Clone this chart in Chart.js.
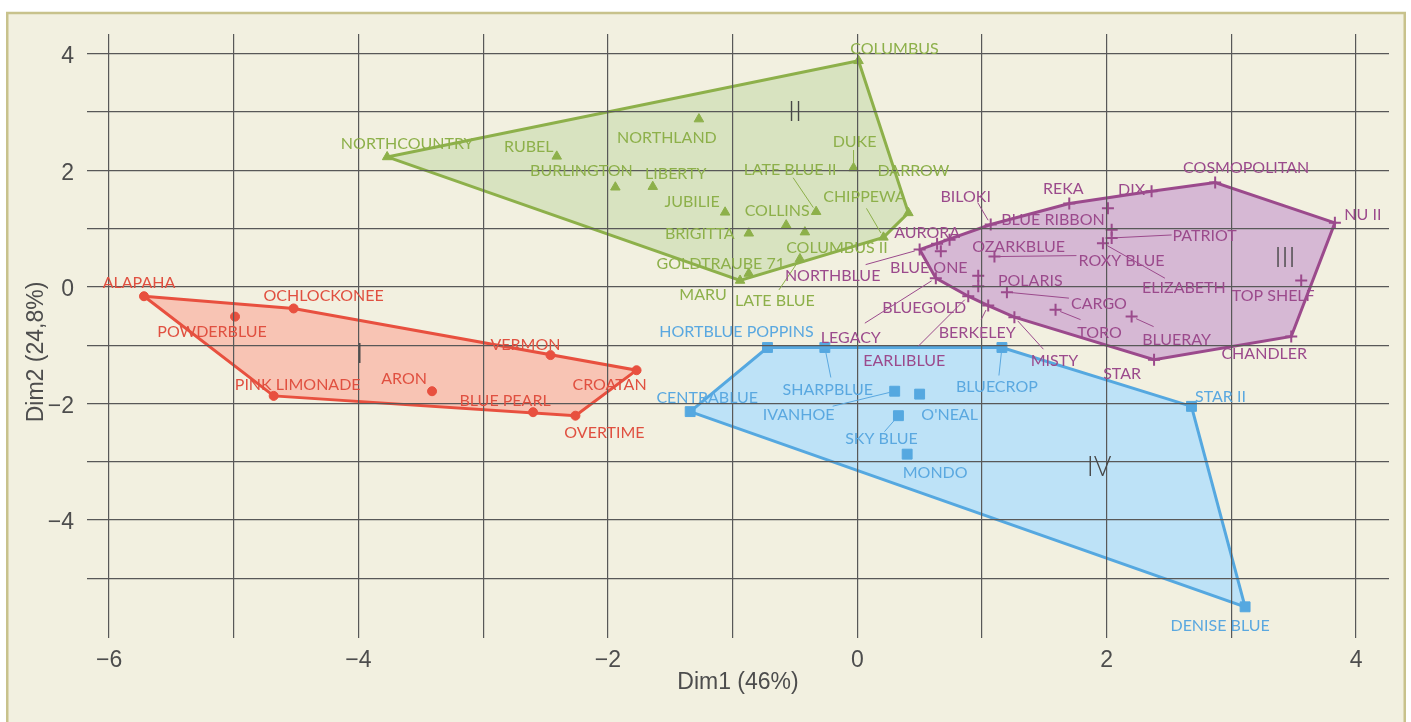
<!DOCTYPE html>
<html>
  <head>
    <meta charset="utf-8">
    <title>Dim1 / Dim2</title>
    <style>
      html, body { margin: 0; padding: 0; background: #fff; }
    </style>
  </head>
  <body>
    <canvas id="MyCanvas" width="1411" height="722"></canvas>
    <script src="https://cdn.jsdelivr.net/npm/chart.js@4.4.1/dist/chart.umd.min.js"></script>
    <script>

      // group I
      const namesI = ['ALAPAHA', 'POWDERBLUE', 'OCHLOCKONEE', 'PINK LIMONADE', 'ARON', 'BLUE PEARL', 'VERMON', 'CROATAN', 'OVERTIME'];
      const dim1I = [-5.72, -4.99, -4.52, -4.68, -3.41, -2.60, -2.46, -1.77, -2.26];
      const dim2I = [-0.16, -0.51, -0.37, -1.87, -1.79, -2.15, -1.17, -1.43, -2.21];

      // group II
      const namesII = ['NORTHCOUNTRY', 'RUBEL', 'NORTHLAND', 'BURLINGTON', 'LIBERTY', 'COLUMBUS', 'DUKE', 'DARROW', 'JUBILIE',
        'LATE BLUE II', 'COLLINS', 'BRIGITTA', 'COLUMBUS II', 'CHIPPEWA', 'LATE BLUE', 'GOLDTRAUBE 71', 'MARU'];
      const dim1II = [-3.77, -2.41, -1.27, -1.94, -1.64, 0.01, -0.03, 0.41, -1.06, -0.33, -0.57, -0.87, -0.42, 0.21, -0.46, -0.87, -0.94];
      const dim2II = [2.23, 2.24, 2.88, 1.71, 1.72, 3.88, 2.04, 1.27, 1.28, 1.29, 1.06, 0.92, 0.94, 0.85, 0.48, 0.23, 0.11];

      // group III
      const namesIII = ['NORTHBLUE', 'AURORA', 'OZARKBLUE', 'BLUE ONE', 'BILOKI', 'REKA', 'BLUE RIBBON', 'DIX', 'COSMOPOLITAN', 'NU II',
        '', 'PATRIOT', 'ELIZABETH', 'ROXY BLUE', 'POLARIS', 'BLUEGOLD', 'CARGO', 'LEGACY', 'EARLIBLUE', 'BERKELEY', 'MISTY',
        'TORO', 'BLUERAY', 'STAR', 'CHANDLER', 'TOP SHELF'];
      const dim1III = [0.50, 0.64, 0.74, 0.67, 1.07, 1.70, 2.01, 2.36, 2.87, 3.83, 2.04, 2.04, 1.97, 1.10, 0.97, 0.97, 1.20, 0.63,
        0.89, 1.05, 1.26, 1.59, 2.20, 2.38, 3.48, 3.56];
      const dim2III = [0.64, 0.74, 0.81, 0.61, 1.07, 1.43, 1.35, 1.64, 1.79, 1.10, 0.98, 0.84, 0.75, 0.52, 0.19, 0.01, -0.09, 0.15,
        -0.16, -0.32, -0.52, -0.39, -0.51, -1.25, -0.85, 0.11];

      // group IV
      const namesIV = ['HORTBLUE POPPINS', 'SHARPBLUE', 'CENTRABLUE', 'IVANHOE', "O'NEAL", 'SKY BLUE', 'MONDO', 'BLUECROP', 'STAR II', 'DENISE BLUE'];
      const dim1IV = [-0.72, -0.26, -1.34, 0.30, 0.50, 0.33, 0.40, 1.16, 2.68, 3.11];
      const dim2IV = [-1.04, -1.04, -2.14, -1.79, -1.84, -2.21, -2.87, -1.04, -2.05, -5.49];

      // roman numeral of each group
      const groupNames = ['I', 'II', 'III', 'IV'];
      const groupX = [-3.99, -0.50, 3.43, 1.94];
      const groupY = [-1.15, 2.99, 0.49, -3.09];

      const xTicks = [-6, -5, -4, -3, -2, -1, 0, 1, 2, 3, 4];
      const yTicks = [-5, -4, -3, -2, -1, 0, 1, 2, 3, 4];

      // label placement, pixels from the point
      const labelOffset = {
        'ALAPAHA': [-5, -13], 'POWDERBLUE': [-23, 15], 'OCHLOCKONEE': [30, -13], 'PINK LIMONADE': [24, -11],
        'ARON': [-28, -12], 'BLUE PEARL': [-28, -11], 'VERMON': [-25, -10], 'CROATAN': [-27, 15], 'OVERTIME': [29, 17],
        'NORTHCOUNTRY': [20, -13], 'RUBEL': [-28, -10], 'NORTHLAND': [-32, 19], 'BURLINGTON': [-34, -16],
        'LIBERTY': [23, -13], 'COLUMBUS': [36, -12], 'DUKE': [1, -26], 'DARROW': [5, -42], 'JUBILIE': [-33, -10],
        'LATE BLUE II': [-26, -42], 'COLLINS': [-9, -14], 'BRIGITTA': [-49, 1], 'COLUMBUS II': [32, 16],
        'CHIPPEWA': [-19, -41], 'LATE BLUE': [-25, 42], 'GOLDTRAUBE 71': [-28, -10], 'MARU': [-37, 14],
        'NORTHBLUE': [-87, 26], 'AURORA': [-10, -11], 'OZARKBLUE': [69, 7], 'BLUE ONE': [-12, 16],
        'BILOKI': [-25, -28], 'REKA': [-6, -15], 'BLUE RIBBON': [-55, 12], 'DIX': [-20, -1], 'COSMOPOLITAN': [31, -15],
        'NU II': [28, -8], 'PATRIOT': [93, -2], 'ELIZABETH': [81, 45], 'ROXY BLUE': [127, 4], 'POLARIS': [52, 5],
        'BLUEGOLD': [-54, 22], 'CARGO': [92, 12], 'LEGACY': [-85, 60], 'EARLIBLUE': [-64, 65], 'BERKELEY': [-11, 27],
        'MISTY': [40, 44], 'TORO': [44, 23], 'BLUERAY': [45, 23], 'STAR': [-32, 14], 'CHANDLER': [-27, 17], 'TOP SHELF': [-28, 15],
        'HORTBLUE POPPINS': [-31, -16], 'SHARPBLUE': [3, 42], 'CENTRABLUE': [17, -14], 'IVANHOE': [-96, 24],
        "O'NEAL": [30, 21], 'SKY BLUE': [-17, 23], 'MONDO': [28, 19], 'BLUECROP': [-5, 39], 'STAR II': [29, -10], 'DENISE BLUE': [-25, 19]
      };
      // where the thin leader line starts, pixels from the point
      const leaderFrom = {
        'DUKE': [0, -18], 'LATE BLUE II': [-23, -34], 'CHIPPEWA': [-17, -29], 'LATE BLUE': [-21, 31],
        'NORTHBLUE': [-54, 15], 'BILOKI': [-13, -22], 'PATRIOT': [60, -3], 'ELIZABETH': [62, 35], 'ROXY BLUE': [82, -1],
        'CARGO': [62, 6], 'TORO': [25, 10], 'BLUERAY': [22, 10], 'LEGACY': [-71, 45], 'EARLIBLUE': [-50, 50],
        'BERKELEY': [-7, 14], 'MISTY': [29, 32],
        'SHARPBLUE': [6, 30], 'IVANHOE': [-62, 15], 'SKY BLUE': [-14, 16], 'BLUECROP': [-3, 28]
      };

      const groups = [
        {names: namesI, x: dim1I, y: dim2I, line: '#e8503f', fill: '#f8c4b4', text: '#e05040', style: 'circle', r: 4.5, bw: 1},
        {names: namesII, x: dim1II, y: dim2II, line: '#8db04a', fill: '#d8e3c0', text: '#8db04a', style: 'triangle', r: 5.5, bw: 1},
        {names: namesIII, x: dim1III, y: dim2III, line: '#9b4a8c', fill: '#d6b8d4', text: '#9b4a8c', style: 'cross', r: 6, bw: 2},
        {names: namesIV, x: dim1IV, y: dim2IV, line: '#55a8e0', fill: '#bde2f7', text: '#5aa8e0', style: 'rect', r: 7, bw: 1}
      ];

      function hullOf(pts) {
        const p = pts.slice().sort((a, b) => a.x - b.x || a.y - b.y);
        const cross = (o, a, b) => (a.x - o.x) * (b.y - o.y) - (a.y - o.y) * (b.x - o.x);
        const lower = [], upper = [];
        for (const q of p) {
          while (lower.length >= 2 && cross(lower[lower.length - 2], lower[lower.length - 1], q) <= 0) lower.pop();
          lower.push(q);
        }
        for (const q of p.slice().reverse()) {
          while (upper.length >= 2 && cross(upper[upper.length - 2], upper[upper.length - 1], q) <= 0) upper.pop();
          upper.push(q);
        }
        const h = lower.slice(0, -1).concat(upper.slice(0, -1));
        h.push(h[0]);
        return h;
      }

      const pointSets = [];
      const hullSets = [];
      groups.forEach(g => {
        const pts = g.names.map((_, i) => ({x: g.x[i], y: g.y[i]}));
        pointSets.push({
          data: pts, showLine: false, order: 1,
          pointStyle: g.style, pointRadius: g.r, pointBorderWidth: g.bw,
          backgroundColor: g.line, borderColor: g.line
        });
        hullSets.push({
          data: hullOf(pts), showLine: true, fill: 'shape', order: 2, tension: 0,
          pointRadius: 0, borderWidth: 3, borderColor: g.line, backgroundColor: g.fill
        });
      });

      const frame = {
        id: 'frame',
        beforeDraw(chart) {
          const c = chart.ctx;
          c.save();
          c.fillStyle = '#ffffff';
          c.fillRect(0, 0, chart.width, chart.height);
          c.fillStyle = '#f2f0e0';
          c.fillRect(7, 13, 1397, 712);
          c.strokeStyle = '#c8c28c';
          c.lineWidth = 2.5;
          c.strokeRect(7.25, 13, 1397.5, 720);
          c.restore();
        }
      };

      const labels = {
        id: 'labels',
        afterDraw(chart) {
          const c = chart.ctx, xs = chart.scales.x, ys = chart.scales.y;
          c.save();
          c.textAlign = 'center';
          c.textBaseline = 'middle';
          c.font = '16px Lato';
          c.lineWidth = 1;
          groups.forEach(g => {
            g.names.forEach((n, i) => {
              if (!n) return;
              const px = xs.getPixelForValue(g.x[i]);
              const py = ys.getPixelForValue(g.y[i]);
              c.fillStyle = g.text;
              c.strokeStyle = g.text;
              const lf = leaderFrom[n];
              if (lf) {
                const len = Math.hypot(lf[0], lf[1]);
                const k = 5 / len;
                c.beginPath();
                c.moveTo(px + lf[0], py + lf[1]);
                c.lineTo(px + lf[0] * k, py + lf[1] * k);
                c.stroke();
              }
              const off = labelOffset[n] || [0, -14];
              c.fillText(n, px + off[0], py + off[1]);
            });
          });
          c.fillStyle = '#474747';
          c.font = '300 27px Lato';
          groupNames.forEach((n, i) => {
            c.fillText(n, xs.getPixelForValue(groupX[i]), ys.getPixelForValue(groupY[i]));
          });
          c.restore();
        }
      };

      const fmt = v => (v < 0 ? '\u2212' + Math.abs(v) : String(v));
      const axisFont = {family: '"Liberation Sans", Arial, sans-serif', size: 23};

      const ctx = document.getElementById('MyCanvas').getContext('2d');
      const myChart = new Chart(ctx, {
        type: 'scatter',
        data: {datasets: pointSets.concat(hullSets)},
        options: {
          responsive: false,
          animation: false,
          devicePixelRatio: 1,
          layout: {padding: {left: 23, right: 22, top: 34, bottom: 26}},
          plugins: {legend: {display: false}, tooltip: {enabled: false}},
          scales: {
            x: {
              type: 'linear', min: -6.177, max: 4.264,
              afterBuildTicks: s => { s.ticks = xTicks.map(v => ({value: v})); },
              afterFit: s => { s.height = 58; },
              border: {display: false},
              grid: {color: '#585858', lineWidth: 1.2, drawTicks: false, z: 1},
              ticks: {padding: 9, color: '#4d4d4d', font: axisFont, autoSkip: false, maxRotation: 0,
                callback: v => (v % 2 === 0 ? fmt(v) : '')},
              title: {display: true, text: 'Dim1 (46%)', color: '#4d4d4d', font: axisFont, padding: 0}
            },
            y: {
              type: 'linear', min: -6.025, max: 4.34,
              afterBuildTicks: s => { s.ticks = yTicks.map(v => ({value: v})); },
              afterFit: s => { s.width = 64; },
              border: {display: false},
              grid: {color: '#585858', lineWidth: 1.2, drawTicks: false, z: 1},
              ticks: {padding: 13, labelOffset: 3, color: '#4d4d4d', font: axisFont, autoSkip: false,
                callback: v => (v % 2 === 0 ? fmt(v) : '')},
              title: {display: true, text: 'Dim2 (24,8%)     ', color: '#4d4d4d', font: axisFont, padding: 0}
            }
          }
        },
        plugins: [frame, labels]
      });
    </script>
  </body>
</html>
